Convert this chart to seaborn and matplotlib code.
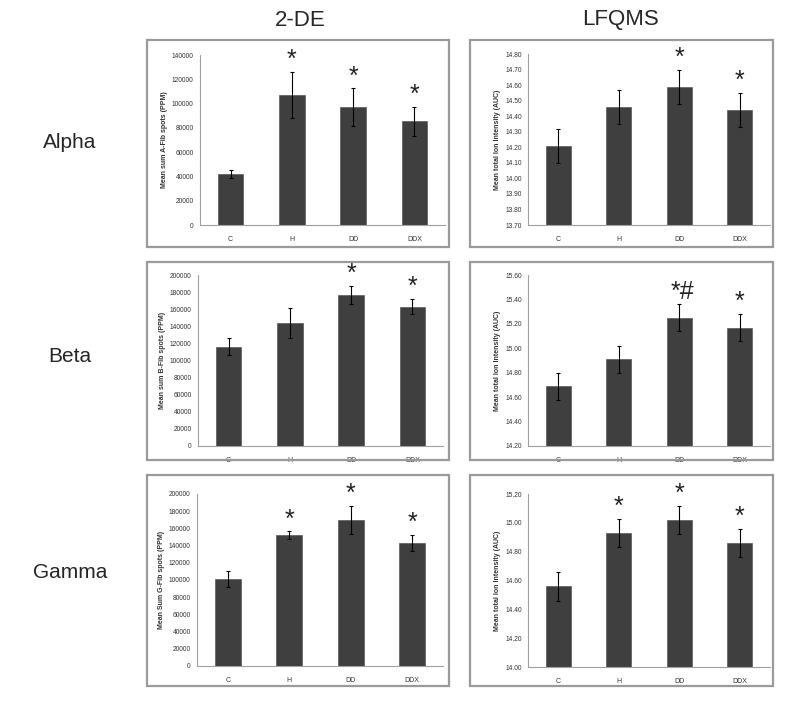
"""
Fibrinogen chains: 2-DE spot volumes vs LFQMS ion intensity, per group.
"""

import numpy as np
import pandas as pd
import matplotlib
matplotlib.use("Agg")
import matplotlib.pyplot as plt
import seaborn as sns
from matplotlib.patches import Rectangle

GROUPS = ["C", "H", "DD", "DDX"]

# 2-DE (PPM)
ALPHA_2DE = [42000, 107000, 97000, 85500]
ALPHA_2DE_ERR = [3500, 19000, 15500, 12000]
BETA_2DE = [116000, 144000, 177000, 163000]
BETA_2DE_ERR = [10000, 17500, 10500, 9000]
GAMMA_2DE = [101000, 152000, 170000, 143000]
GAMMA_2DE_ERR = [9000, 4500, 16000, 9500]

# LFQMS (AUC)
ALPHA_LFQ = [14.21, 14.46, 14.59, 14.44]
ALPHA_LFQ_ERR = [0.11, 0.11, 0.11, 0.11]
BETA_LFQ = [14.69, 14.91, 15.25, 15.17]
BETA_LFQ_ERR = [0.11, 0.11, 0.11, 0.11]
GAMMA_LFQ = [14.56, 14.93, 15.02, 14.86]
GAMMA_LFQ_ERR = [0.10, 0.10, 0.10, 0.10]

ALPHA_2DE_MARK = ["", "*", "*", "*"]
ALPHA_LFQ_MARK = ["", "", "*", "*"]
BETA_2DE_MARK = ["", "", "*", "*"]
BETA_LFQ_MARK = ["", "", "*#", "*"]
GAMMA_2DE_MARK = ["", "*", "*", "*"]
GAMMA_LFQ_MARK = ["", "*", "*", "*"]

ROW_NAMES = ["Alpha", "Beta", "Gamma"]
COL_NAMES = ["2-DE", "LFQMS"]

BAR_COLOR = "#3f3f3f"
AXIS_COLOR = "#a0a0a0"
W, H = 800, 711

PANELS = [
    # (values, errors, marks, ylabel, ylim, step, fmt, axes rect px, box px)
    (ALPHA_2DE, ALPHA_2DE_ERR, ALPHA_2DE_MARK, "Mean sum A-Fib spots (PPM)",
     (0, 140000), 20000, "{:.0f}", (200, 55, 445, 225), (147, 40, 449, 247)),
    (ALPHA_LFQ, ALPHA_LFQ_ERR, ALPHA_LFQ_MARK, "Mean total Ion Intensity (AUC)",
     (13.70, 14.80), 0.10, "{:.2f}", (528, 54, 770, 225), (470, 40, 773, 247)),
    (BETA_2DE, BETA_2DE_ERR, BETA_2DE_MARK, "Mean sum B-Fib spots (PPM)",
     (0, 200000), 20000, "{:.0f}", (198, 275, 443, 446), (147, 262, 449, 460)),
    (BETA_LFQ, BETA_LFQ_ERR, BETA_LFQ_MARK, "Mean total Ion Intensity (AUC)",
     (14.20, 15.60), 0.20, "{:.2f}", (528, 275, 770, 446), (470, 262, 773, 460)),
    (GAMMA_2DE, GAMMA_2DE_ERR, GAMMA_2DE_MARK, "Mean Sum G-Fib spots (PPM)",
     (0, 200000), 20000, "{:.0f}", (197, 494, 443, 666), (147, 475, 449, 686)),
    (GAMMA_LFQ, GAMMA_LFQ_ERR, GAMMA_LFQ_MARK, "Mean total Ion Intensity (AUC)",
     (14.00, 15.20), 0.20, "{:.2f}", (528, 494, 770, 667), (470, 475, 773, 686)),
]


def to_fig(rect):
    x0, y0, x1, y1 = rect
    return [x0 / W, 1 - y1 / H, (x1 - x0) / W, (y1 - y0) / H]


def draw_panel(fig, values, errors, marks, ylabel, ylim, step, fmt, rect, box):
    bx = to_fig(box)
    fig.patches.append(Rectangle((bx[0], bx[1]), bx[2], bx[3], transform=fig.transFigure,
                                 fill=False, edgecolor="#9a9a9a", linewidth=1.6, zorder=5))

    ax = fig.add_axes(to_fig(rect))
    df = pd.DataFrame({"group": GROUPS, "value": values})
    sns.barplot(data=df, x="group", y="value", color=BAR_COLOR, width=0.42,
                saturation=1, edgecolor="#5a5a5a", linewidth=0.5, ax=ax)
    ax.errorbar(np.arange(len(GROUPS)), values, yerr=errors, fmt="none",
                ecolor="black", elinewidth=0.8, capsize=1.2, capthick=0.8)

    lo, hi = ylim
    ax.set_ylim(lo, hi)
    ax.set_xlim(-0.5, len(GROUPS) - 0.5)
    ticks = np.arange(lo, hi + step / 2, step)
    ax.set_yticks(ticks)
    ax.set_yticklabels([fmt.format(t) for t in ticks], fontsize=4.8, color="#333333")
    ax.set_xticks(np.arange(len(GROUPS)))
    ax.set_xticklabels(GROUPS, fontsize=5, color="#333333")
    ax.tick_params(axis="x", length=0, pad=8)
    ax.set_xticks(np.arange(-0.5, len(GROUPS)), minor=True)
    ax.tick_params(axis="x", which="minor", length=2.5, color=AXIS_COLOR, width=0.8)
    ax.tick_params(axis="y", length=2.5, color=AXIS_COLOR, width=0.8, pad=2)
    ax.set_xlabel("")
    ax.set_ylabel(ylabel, fontsize=5, fontweight="bold", color="#333333", labelpad=3)

    for side in ["top", "right"]:
        ax.spines[side].set_visible(False)
    for side in ["left", "bottom"]:
        ax.spines[side].set_color(AXIS_COLOR)
        ax.spines[side].set_linewidth(0.8)

    for i, m in enumerate(marks):
        if m:
            ax.text(i + (0.06 if "#" in m else 0), values[i] + errors[i], m,
                    ha="center", va="bottom", fontsize=18, color="#222222")
    ax.set_facecolor("none")
    return ax


def main():
    sns.set_style("white")
    plt.rcParams["font.family"] = ["Liberation Sans", "DejaVu Sans"]
    fig = plt.figure(figsize=(8, 7.11), dpi=100)

    for p in PANELS:
        draw_panel(fig, *p)

    fig.text(300 / W, 1 - 20 / H, COL_NAMES[0], ha="center", va="center", fontsize=16)
    fig.text(621 / W, 1 - 20 / H, COL_NAMES[1], ha="center", va="center", fontsize=16)
    for name, y in zip(ROW_NAMES, [143, 357, 573]):
        fig.text(70 / W, 1 - y / H, name, ha="center", va="center", fontsize=15)

    fig.savefig("out.png", dpi=100)
    plt.close(fig)


if __name__ == "__main__":
    main()
